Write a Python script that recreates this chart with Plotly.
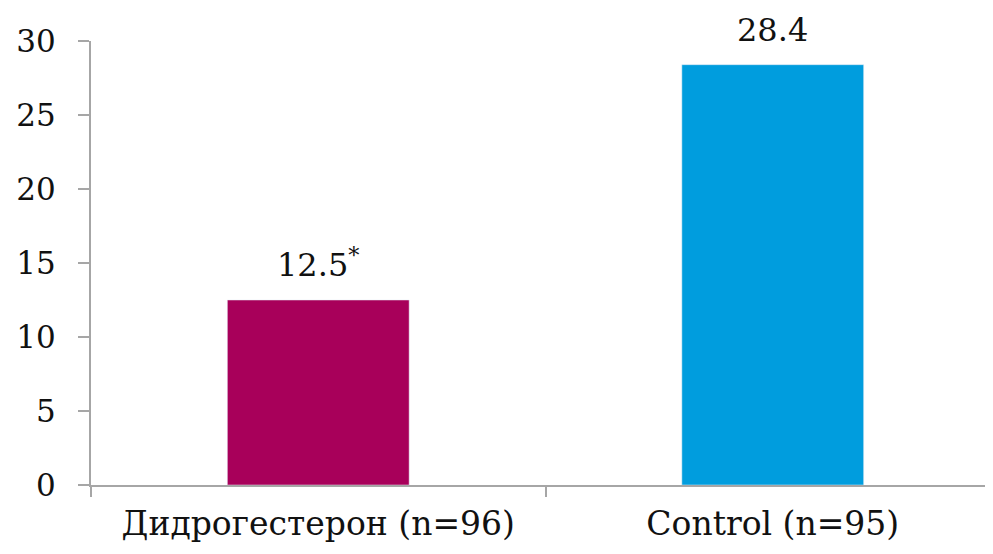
import plotly.graph_objects as go

categories = ["Дидрогестерон (n=96)", "Control (n=95)"]
values = [12.5, 28.4]
markers = ["*", ""]
colors = ["#A8005A", "#009DDE"]
y_ticks = [0, 5, 10, 15, 20, 25, 30]

texts = [f"{v}<sup>{m}</sup>" if m else f"{v}" for v, m in zip(values, markers)]

fig = go.Figure(go.Bar(
    x=categories, y=values, marker_color=colors, width=0.4,
    hoverinfo="skip",
))

for c, v, t in zip(categories, values, texts):
    fig.add_annotation(x=c, y=v, text=t, showarrow=False, yanchor="bottom",
                       yshift=14, font=dict(size=32, color="#111111", family="DejaVu Serif"))

fig.update_layout(
    width=985, height=546,
    margin=dict(l=83, r=0, t=33, b=69),
    plot_bgcolor="white", paper_bgcolor="white",
    font=dict(family="DejaVu Serif", size=32, color="#111111"),
    showlegend=False,
    xaxis=dict(
        type="category", range=[-0.5, 1.4846], automargin=False,
        showline=True, linecolor="#A6A6A6", linewidth=2,
        ticks="outside", tickson="boundaries", ticklen=10, tickcolor="#A6A6A6", tickwidth=1.5,
        ticklabelstandoff=8,
        tickfont=dict(size=33), showgrid=False,
    ),
    yaxis=dict(
        range=[0, 30], tickvals=y_ticks, automargin=False,
        showline=True, linecolor="#A6A6A6", linewidth=2,
        ticks="outside", ticklen=11, tickcolor="#A6A6A6", tickwidth=1.5,
        ticklabelstandoff=16,
        tickfont=dict(size=31), showgrid=False, zeroline=False,
    ),
)

fig.write_html("out.html")
